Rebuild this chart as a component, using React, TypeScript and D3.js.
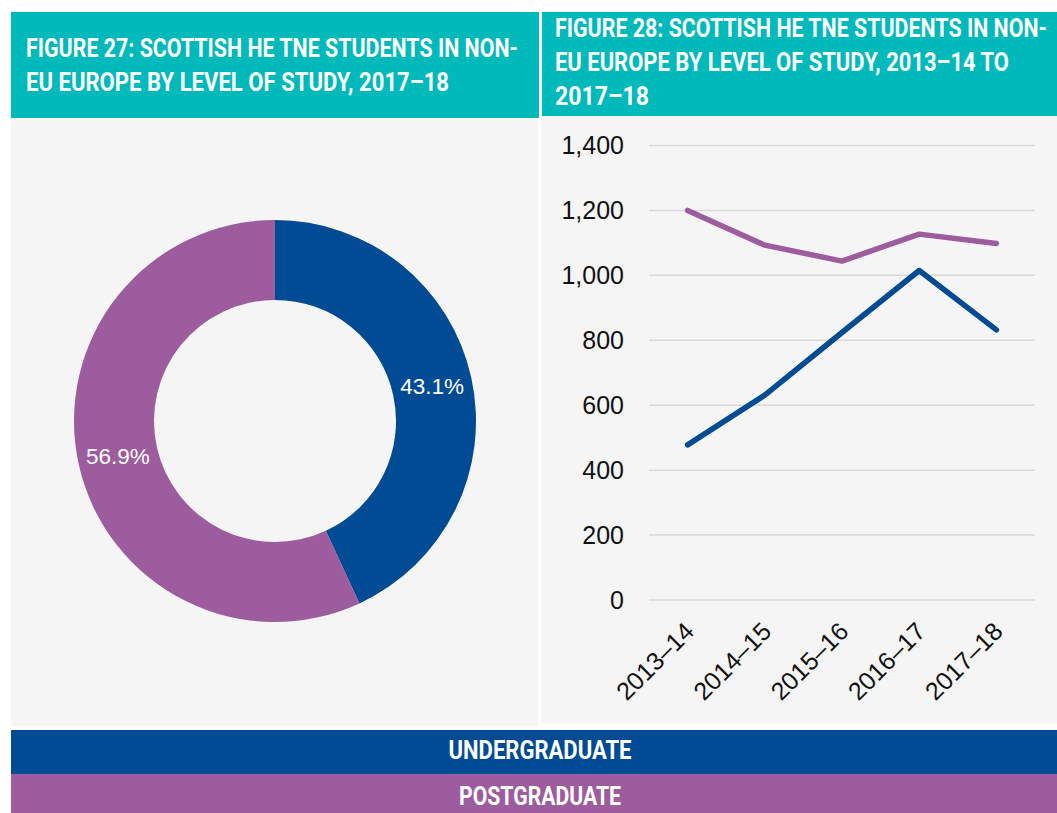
import React from "react";
import * as d3 from "d3";

const years = ["2013–14", "2014–15", "2015–16", "2016–17", "2017–18"];
const undergraduate = [478, 631, 824, 1015, 832];
const postgraduate = [1200, 1093, 1044, 1127, 1098];
const levels = ["UNDERGRADUATE", "POSTGRADUATE"];
const shares2017 = [43.1, 56.9];
const yTicks = [0, 200, 400, 600, 800, 1000, 1200, 1400];
const title27 = ["FIGURE 27: SCOTTISH HE TNE STUDENTS IN NON-", "EU EUROPE BY LEVEL OF STUDY, 2017–18"];
const title28 = ["FIGURE 28: SCOTTISH HE TNE STUDENTS IN NON-", "EU EUROPE BY LEVEL OF STUDY, 2013–14 TO", "2017–18"];

const TEAL = "#00B9BB";
const BLUE = "#004B93";
const PURPLE = "#9C5C9E";
const PANEL = "#F5F5F5";
const HEAD_FONT = "'Roboto', 'Liberation Sans', sans-serif";
const BODY_FONT = "'Liberation Sans', Arial, sans-serif";

const t27Widths = [492, 423];
const t28Widths = [492, 454, 94];

function CondText(props: { x: number; y: number; w: number; anchor?: string; children: string }) {
  const { x, y, w, anchor, children } = props;
  return (
    <text transform={`translate(${x},${y}) scale(1,1.25)`} textAnchor={anchor || "start"} fill="#fff"
      fontFamily={HEAD_FONT} fontWeight="bold" fontSize={20.5} textLength={w} lengthAdjust="spacingAndGlyphs">
      {children}
    </text>
  );
}

export default function App() {
  const W = 1057, H = 813;

  // pie
  const cx = 275, cy = 421;
  const pie = d3.pie<number>().sort(null).value((d) => d);
  const arcs = pie(shares2017);
  const arc = d3.arc<d3.PieArcDatum<number>>().innerRadius(121).outerRadius(201);
  const colors = [BLUE, PURPLE];

  // line chart
  const x = d3.scaleBand<string>().domain(years).range([649, 1035]).padding(0);
  const xc = (d: string) => (x(d) as number) + x.bandwidth() / 2;
  const y = d3.scaleLinear().domain([0, 1400]).range([600, 145.5]);
  const line = d3
    .line<number>()
    .x((_, i) => xc(years[i]))
    .y((d) => y(d));
  const fmt = d3.format(",");

  return (
    <svg width={W} height={H} style={{ position: "absolute", left: 0, top: 0, background: "#fff" }}>
      {/* left header + panel */}
      <rect x={11} y={12} width={528} height={106} fill={TEAL} />
      <rect x={11} y={118} width={527} height={608} fill={PANEL} />
      {title27.map((t, i) => (
        <CondText key={i} x={26} y={57 + i * 34} w={t27Widths[i]}>{t}</CondText>
      ))}
      {/* right header + panel */}
      <rect x={542} y={12} width={515} height={104} fill={TEAL} />
      <rect x={541} y={116} width={516} height={607} fill={PANEL} />
      {title28.map((t, i) => (
        <CondText key={i} x={555} y={37 + i * 34} w={t28Widths[i]}>{t}</CondText>
      ))}

      {/* donut */}
      <g transform={`translate(${cx},${cy})`}>
        {arcs.map((a, i) => (
          <path key={i} d={arc(a) || ""} fill={colors[i]} />
        ))}
        {arcs.map((a, i) => {
          const [lx, ly] = arc.centroid(a);
          return (
            <text key={"l" + i} x={lx} y={ly} dy="0.35em" textAnchor="middle" fill="#fff"
              fontFamily={BODY_FONT} fontSize={22.5}>{shares2017[i].toFixed(1)}%</text>
          );
        })}
      </g>

      {/* grid + y axis */}
      {yTicks.map((t) => (
        <g key={t}>
          <line x1={649} x2={1035} y1={y(t)} y2={y(t)} stroke="#D9D9D9" strokeWidth={1.5} />
          <text x={624} y={y(t)} dy="0.35em" textAnchor="end" fontFamily={BODY_FONT} fontSize={25} fill="#111">{fmt(t)}</text>
        </g>
      ))}
      {/* x axis labels */}
      {years.map((d) => (
        <text key={d} transform={`translate(${xc(d) + 8},633) rotate(-45)`} textAnchor="end"
          fontFamily={BODY_FONT} fontSize={25} fill="#111">{d}</text>
      ))}
      {/* lines */}
      <path d={line(postgraduate) || ""} fill="none" stroke={PURPLE} strokeWidth={5.5} strokeLinecap="round" strokeLinejoin="round" />
      <path d={line(undergraduate) || ""} fill="none" stroke={BLUE} strokeWidth={5.5} strokeLinecap="round" strokeLinejoin="round" />

      {/* legend bars */}
      <rect x={11} y={730} width={1046} height={44} fill={BLUE} />
      <rect x={11} y={774} width={1046} height={39} fill={PURPLE} />
      <CondText x={540} y={759} w={183} anchor="middle">{levels[0]}</CondText>
      <CondText x={540} y={805} w={162} anchor="middle">{levels[1]}</CondText>
    </svg>
  );
}
